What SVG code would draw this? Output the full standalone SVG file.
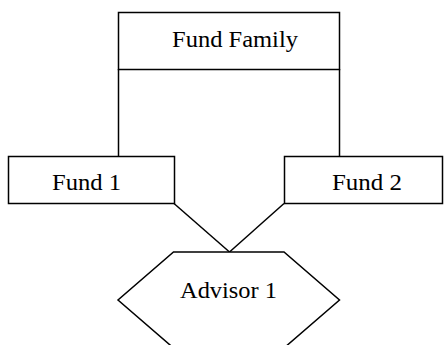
<svg xmlns="http://www.w3.org/2000/svg" width="445" height="345" viewBox="0 0 445 345">
<style>
.s{fill:none;stroke:#000;stroke-width:1.5}
.b{fill:#fff;stroke:#000;stroke-width:1.5}
text{font-family:"Liberation Serif","DejaVu Serif",serif;font-size:23px;fill:#000}
</style>
<rect width="445" height="345" fill="#fff"/>
<g id="connectors">
<line class="s" x1="118.5" y1="69" x2="118.5" y2="156.5"/>
<line class="s" x1="339.5" y1="69" x2="339.5" y2="156.5"/>
<line class="s" x1="174" y1="203.5" x2="229.5" y2="252"/>
<line class="s" x1="284" y1="203.5" x2="229.5" y2="252"/>
</g>
<g id="fund-family">
<rect class="b" x="118.5" y="12.5" width="221" height="57"/>
<text x="172" y="47" textLength="126" lengthAdjust="spacingAndGlyphs">Fund Family</text>
</g>
<g id="fund-1">
<rect class="b" x="8.5" y="156.5" width="166" height="47"/>
<text x="52" y="190" textLength="69" lengthAdjust="spacingAndGlyphs">Fund 1</text>
</g>
<g id="fund-2">
<rect class="b" x="284.5" y="156.5" width="158" height="47"/>
<text x="332" y="190" textLength="70" lengthAdjust="spacingAndGlyphs">Fund 2</text>
</g>
<g id="advisor-1">
<polygon class="b" points="173.5,252 284,252 339.5,300 284,348 173.5,348 118,300"/>
<text x="180" y="298" textLength="97" lengthAdjust="spacingAndGlyphs">Advisor 1</text>
</g>
</svg>
